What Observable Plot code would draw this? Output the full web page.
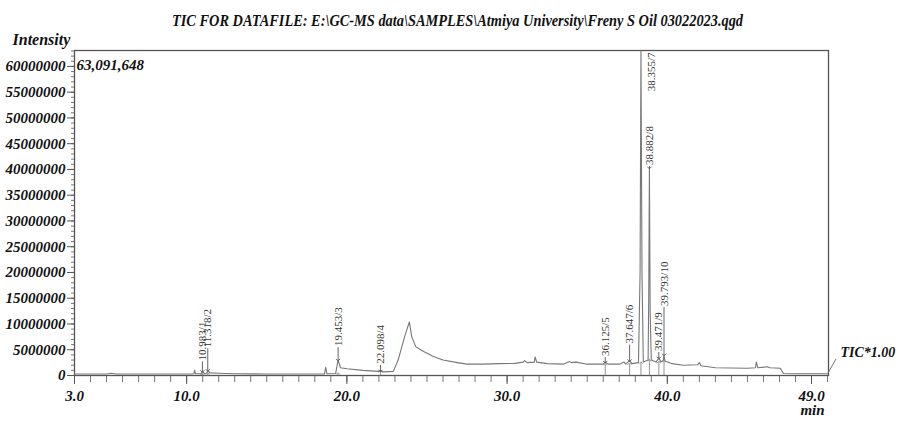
<!DOCTYPE html>
<html>
<head>
<meta charset="utf-8">
<script src="https://cdn.jsdelivr.net/npm/d3@7"></script>
<script src="https://cdn.jsdelivr.net/npm/@observablehq/plot@0.6"></script>
<style>
  html, body { margin: 0; padding: 0; background: white; }
</style>
</head>
<body>
<div id="chart"></div>
<script>
// ---- data (retention time in min, intensity in millions of counts) ----
const traceTimes = [3.0, 4.0, 5.0, 5.3, 5.6, 7.0, 8.5, 10.3, 10.45, 10.5, 10.55, 10.9, 10.98, 11.1, 11.25, 11.32, 11.45, 12.0, 13.0, 15.0, 17.0, 18.6, 18.68, 18.75, 19.3, 19.45, 19.6, 20.0, 21.0, 22.0, 22.1, 22.3, 22.9, 23.2, 23.6, 23.9, 24.05, 24.3, 24.7, 25.4, 26.0, 26.9, 27.5, 28.5, 29.5, 30.5, 31.0, 31.1, 31.25, 31.7, 31.75, 31.85, 32.5, 33.5, 33.9, 34.0, 34.3, 35.0, 36.0, 36.125, 36.3, 37.0, 37.3, 37.4, 37.647, 37.8, 38.2, 38.3, 38.355, 38.42, 38.5, 38.8, 38.84, 38.882, 38.93, 39.0, 39.3, 39.471, 39.6, 39.75, 39.793, 39.85, 40.3, 41.0, 41.9, 42.0, 42.1, 43.0, 45.0, 45.5, 45.56, 45.65, 46.25, 46.4, 47.05, 47.25, 48.0, 50.06];
const traceIntensity = [0.3, 0.3, 0.3, 0.45, 0.3, 0.3, 0.28, 0.3, 0.35, 1.0, 0.35, 0.35, 0.8, 0.4, 0.45, 1.0, 0.5, 0.45, 0.35, 0.3, 0.3, 0.3, 1.6, 0.35, 0.4, 3.0, 1.5, 1.3, 1.0, 0.8, 0.9, 0.7, 0.8, 3.0, 7.5, 10.4, 7.5, 5.6, 4.8, 3.7, 3.0, 2.5, 2.2, 2.2, 2.3, 2.35, 2.6, 2.9, 2.5, 2.6, 3.6, 2.6, 2.3, 2.2, 2.7, 2.5, 2.6, 2.2, 2.2, 2.6, 2.2, 2.2, 2.6, 2.2, 2.9, 2.3, 2.5, 20, 63.09, 20, 2.6, 3.0, 15, 40.3, 12, 3.0, 2.6, 3.4, 2.6, 3.0, 4.0, 2.8, 2.3, 2.0, 2.1, 2.5, 1.9, 1.5, 1.4, 1.5, 2.6, 1.5, 1.7, 1.5, 1.4, 0.4, 0.35, 0.35];

const peakTimes   = [10.983, 11.318, 19.453, 22.098, 36.125, 37.647, 38.355, 38.882, 39.471, 39.793];
const peakHeights = [0.8, 1.0, 3.0, 0.9, 2.6, 2.9, 63.09, 40.3, 3.4, 4.0];
const peakBases   = [0.3, 0.4, 0.4, 0.8, 2.2, 2.3, 2.5, 3.0, 2.6, 2.8];
const peakLabels  = ["10.983/1", "11.318/2", "19.453/3", "22.098/4", "36.125/5", "37.647/6", "38.355/7", "38.882/8", "39.471/9", "39.793/10"];

const yMaxValue = 63.091648;          // full-scale intensity (millions)
const yTicks = [0, 5, 10, 15, 20, 25, 30, 35, 40, 45, 50, 55, 60];
const yTickLabels = ["0", "5000000", "10000000", "15000000", "20000000", "25000000", "30000000", "35000000", "40000000", "45000000", "50000000", "55000000", "60000000"];
const xTicks = [3, 10, 20, 30, 40, 49];
const xTickLabels = ["3.0", "10.0", "20.0", "30.0", "40.0", "49.0"];

const titleText = "TIC FOR DATAFILE: E:\\GC-MS data\\SAMPLES\\Atmiya University\\Freny S Oil 03022023.qgd";
const maxText = "63,091,648";
const yTitle = "Intensity";
const xTitle = "min";
const traceName = "TIC*1.00";

// ---- layout ----
const W = 901, H = 423;
const mL = 74, mR = 73, mT = 50, mB = 48;
const plotH = H - mT - mB;
const pxToVal = yMaxValue / plotH;
const labelGap = [10, 22, 13, 6, 5, 16, 0, 2, 6, 48]; // px between apex and label

const trace = traceTimes.map((t, i) => ({t, v: traceIntensity[i]}));
const peaks = peakTimes.map((t, i) => ({
  t, h: peakHeights[i], base: peakBases[i], label: peakLabels[i],
  top: peakHeights[i] + labelGap[i] * pxToVal,
  clipped: peakHeights[i] >= yMaxValue * 0.99
}));
const normalPeaks = peaks.filter(d => !d.clipped);
const clippedPeaks = peaks.filter(d => d.clipped);

const bi = {fontFamily: "Liberation Serif", fontWeight: "bold", fontStyle: "italic"};

const chart = Plot.plot({
  width: W, height: H,
  marginLeft: mL, marginRight: mR, marginTop: mT, marginBottom: mB,
  style: {fontFamily: "Liberation Serif", background: "white", color: "#111", overflow: "visible"},
  x: {domain: [3, 50.06]},
  y: {domain: [0, yMaxValue]},
  marks: [
    // minor ticks
    Plot.axisY({ticks: d3.range(0, 64, 1), tickSize: 3, text: null, stroke: "#777", label: null}),
    Plot.axisX({ticks: d3.range(3, 51, 1), tickSize: 7, text: null, stroke: "#777", label: null}),
    // major ticks + labels
    Plot.axisY({ticks: yTicks, tickSize: 7, tickPadding: 2, stroke: "#555",
      tickFormat: d => yTickLabels[yTicks.indexOf(d)], fontSize: 15, ...bi, label: null}),
    Plot.axisX({ticks: xTicks, tickSize: 9, tickPadding: 6, stroke: "#555",
      tickFormat: d => xTickLabels[xTicks.indexOf(d)], fontSize: 15, ...bi, label: null}),
    Plot.frame({stroke: "#555", strokeWidth: 1.3}),
    // chromatogram
    Plot.line(trace, {x: "t", y: "v", stroke: "#777", strokeWidth: 1.1, clip: true}),
    // baseline arrows
    Plot.link(peaks, {x1: "t", x2: "t", y1: 0, y2: "base", stroke: "#777", strokeWidth: 0.8, markerEnd: "arrow"}),
    // label leader arrows
    Plot.link(normalPeaks, {x1: "t", x2: "t", y1: "top", y2: "h", stroke: "#555", strokeWidth: 0.9, markerEnd: "arrow"}),
    // peak labels
    Plot.text(normalPeaks, {x: "t", y: "top", text: "label", rotate: -90, textAnchor: "start",
      dy: -1, fontSize: 11, fill: "#333", fontFamily: "Liberation Serif"}),
    Plot.text(clippedPeaks, {x: "t", y: yMaxValue, text: "label", rotate: -90, textAnchor: "end",
      dx: 11, dy: 2, fontSize: 11, fill: "#333", fontFamily: "Liberation Serif"}),
    // texts
    Plot.text([titleText], {frameAnchor: "top", dx: 6, dy: -30, lineAnchor: "middle", fontSize: 16, ...bi, fill: "#111", className: "chart-title"}),
    Plot.text([yTitle], {frameAnchor: "top-left", dx: -62, dy: -6, textAnchor: "start", lineAnchor: "bottom", fontSize: 16, ...bi, fill: "#111"}),
    Plot.text([maxText], {frameAnchor: "top-left", dx: 2, dy: 15, textAnchor: "start", lineAnchor: "middle", fontSize: 15, ...bi, fill: "#111"}),
    Plot.text([traceName], {frameAnchor: "bottom-right", dx: 12, dy: -23, textAnchor: "start", lineAnchor: "middle", fontSize: 14, ...bi, fill: "#111"}),
    Plot.text([xTitle], {frameAnchor: "bottom-right", dx: -16, dy: 35, textAnchor: "middle", lineAnchor: "middle", fontSize: 15, ...bi, fill: "#111"})
  ]
});

// condense the title to the reference's width
d3.select(chart).selectAll(".chart-title text")
  .attr("textLength", 571).attr("lengthAdjust", "spacingAndGlyphs");

// small slanted connector toward the trace name
d3.select(chart).append("line")
  .attr("x1", W - mR).attr("y1", H - mB - 2)
  .attr("x2", W - mR + 8).attr("y2", H - mB - 16)
  .attr("stroke", "#777").attr("stroke-width", 1);

document.getElementById("chart").append(chart);
</script>
</body>
</html>
